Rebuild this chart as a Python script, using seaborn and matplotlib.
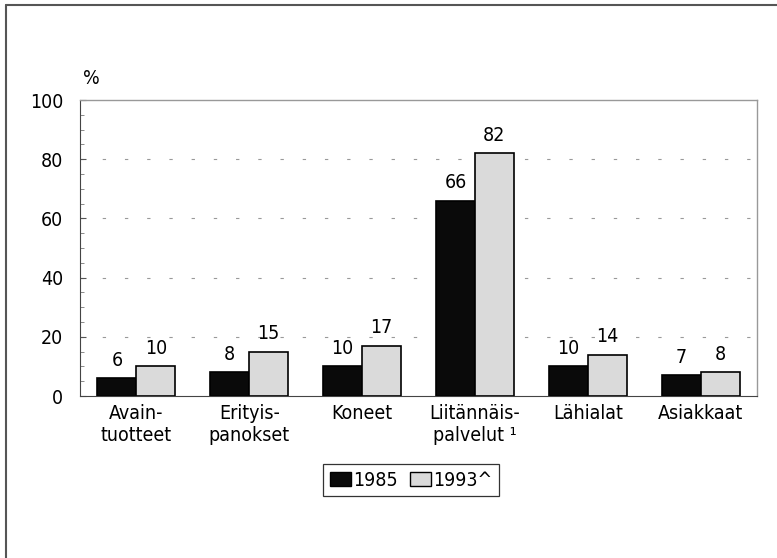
import pandas as pd
import numpy as np
import matplotlib
matplotlib.use('Agg')
import matplotlib.pyplot as plt
import seaborn as sns
from matplotlib.patches import Patch
from matplotlib.ticker import MultipleLocator

categories = ['Avain-\ntuotteet', 'Erityis-\npanokset', 'Koneet',
              'Liitännäis-\npalvelut \u00b9', 'Lähialat', 'Asiakkaat']
v1985 = [6, 8, 10, 66, 10, 7]
v1993 = [10, 15, 17, 82, 14, 8]
years = ['1985', '1993^']
colors = ['#0a0a0a', '#dadada']

df = pd.DataFrame({
    'category': categories * 2,
    'value': v1985 + v1993,
    'year': [years[0]] * 6 + [years[1]] * 6,
})

sns.set_style('white')
plt.rcParams['font.family'] = ['DejaVu Sans']
plt.rcParams['font.stretch'] = 'condensed'
plt.rcParams['text.color'] = 'black'
plt.rcParams['xtick.color'] = 'black'
plt.rcParams['ytick.color'] = 'black'

fig = plt.figure(figsize=(7.77, 5.58), dpi=100)
ax = fig.add_axes([80 / 777, 1 - 396 / 558, 677 / 777, 296 / 558])

sns.barplot(data=df, x='category', y='value', hue='year', palette=colors,
            width=0.69, gap=0, edgecolor='black', linewidth=1.2,
            saturation=1, legend=False, ax=ax)

for cont in ax.containers:
    ax.bar_label(cont, labels=[f'{int(v)}' for v in cont.datavalues],
                 padding=6, fontsize=14)

ax.set_ylim(0, 100)
ax.set_xlim(-0.5, 5.5)
ax.yaxis.set_major_locator(MultipleLocator(20))
ax.yaxis.set_minor_locator(MultipleLocator(5))
ax.tick_params(axis='y', which='major', direction='in', length=4, labelsize=14,
               left=True, color='#555555', labelcolor='black', pad=12)
ax.tick_params(axis='y', which='minor', direction='in', length=3, left=True,
               color='#777777')
ax.tick_params(axis='x', length=0, labelsize=14, pad=6, labelcolor='black')
for lab in ax.get_xticklabels():
    lab.set_linespacing(1.2)
ax.set_xlabel('')
ax.set_ylabel('')

for y in [20, 40, 60, 80]:
    ax.axhline(y, color='#999999', linewidth=0.8, linestyle=(0, (3, 17)), zorder=0)

for side in ['top', 'right']:
    ax.spines[side].set_color('#999999')
    ax.spines[side].set_linewidth(1.0)
ax.spines['left'].set_color('#444444')
ax.spines['bottom'].set_color('#444444')
for s in ax.spines.values():
    s.set_visible(True)

ax.text(0.004, 1.04, '%', transform=ax.transAxes, fontsize=14, ha='left', va='bottom')

handles = [Patch(facecolor=colors[0], edgecolor='black', label=years[0]),
           Patch(facecolor=colors[1], edgecolor='black', label=years[1])]
leg = fig.legend(handles=handles, ncol=2, loc='center', bbox_to_anchor=(411 / 777, 1 - 480 / 558),
                 fontsize=14, frameon=True, fancybox=False, edgecolor='black',
                 handlelength=1.1, handleheight=0.75, handletextpad=0.1,
                 columnspacing=0.6, borderpad=0.35, borderaxespad=0)
leg.get_frame().set_linewidth(0.9)

# page frame (top and left edges of the scanned box)
fig.add_artist(plt.Line2D([6 / 777, 6 / 777], [0, 1 - 5 / 558], transform=fig.transFigure,
                          color='#555555', linewidth=1.5))
fig.add_artist(plt.Line2D([6 / 777, 1], [1 - 5 / 558, 1 - 5 / 558], transform=fig.transFigure,
                          color='#555555', linewidth=1.5))

fig.savefig('out.png', dpi=100)
